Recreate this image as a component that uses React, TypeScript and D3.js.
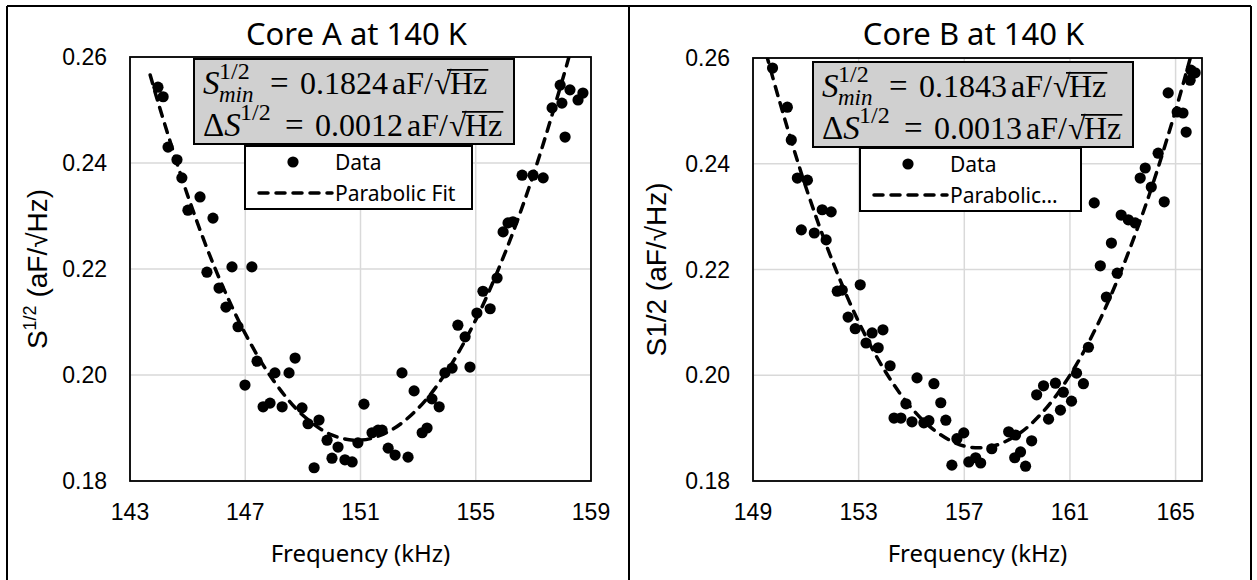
import React from 'react';
import * as d3 from 'd3';

// ---------- data ----------
const yTicks = [0.18, 0.2, 0.22, 0.24, 0.26];
const xTicksA = [143, 147, 151, 155, 159];
const xTicksB = [149, 153, 157, 161, 165];

const freqA = [143.97,144.15,144.32,144.63,144.80,145.01,145.43,145.88,145.67,146.54,147.23,146.09,146.33,146.75,147.41,146.99,148.03,148.52,148.73,147.62,147.86,148.28,148.97,149.18,149.56,149.84,150.22,150.01,150.46,150.71,149.39,150.91,151.12,151.40,151.61,151.75,151.96,152.20,152.65,152.44,152.86,153.14,153.31,153.48,153.73,153.93,154.18,154.80,154.38,154.63,155.04,155.50,155.25,155.74,156.12,155.95,156.29,156.61,156.99,157.34,158.10,157.65,157.99,157.93,158.27,158.55,158.72];
const sA = [0.2543,0.2525,0.2430,0.2406,0.2372,0.2311,0.2336,0.2296,0.2194,0.2204,0.2204,0.2164,0.2128,0.2091,0.2026,0.1981,0.2004,0.2004,0.2032,0.1940,0.1947,0.1940,0.1938,0.1908,0.1915,0.1877,0.1864,0.1843,0.1840,0.1836,0.1825,0.1872,0.1945,0.1891,0.1896,0.1896,0.1862,0.1849,0.1845,0.2004,0.1970,0.1891,0.1900,0.1955,0.1940,0.2004,0.2013,0.2015,0.2094,0.2072,0.2117,0.2125,0.2158,0.2183,0.2287,0.2270,0.2289,0.2377,0.2377,0.2372,0.2449,0.2504,0.2513,0.2547,0.2538,0.2519,0.2532];
const fitFreqA = [143.7,144,145,146,147,148,149,150,151,152,153,154,155,156,157,158,158.3];
const fitSA = [0.2566,0.2510,0.2339,0.2195,0.2078,0.1988,0.1924,0.1887,0.1877,0.1894,0.1937,0.2007,0.2104,0.2228,0.2378,0.2555,0.2613];

const freqB = [149.74,150.30,150.45,150.68,151.06,151.62,151.96,150.83,151.32,151.77,152.19,152.38,153.06,152.60,152.87,153.51,153.92,153.28,153.74,154.19,155.21,155.85,156.11,156.30,154.79,154.34,154.60,155.02,155.47,155.66,156.98,156.72,156.53,157.17,157.43,157.62,158.04,158.68,158.94,159.13,158.91,159.32,159.55,160.19,160.64,159.74,160.00,160.45,160.75,161.06,161.25,161.51,161.70,162.38,162.15,162.79,162.57,161.92,162.94,163.21,163.47,164.57,164.08,163.85,163.66,164.34,165.06,164.72,165.40,165.58,165.74,165.55,165.28];
const sB = [0.2581,0.2507,0.2445,0.2373,0.2369,0.2313,0.2309,0.2275,0.2269,0.2256,0.2159,0.2161,0.2171,0.2110,0.2088,0.2080,0.2086,0.2061,0.2052,0.2018,0.1995,0.1984,0.1948,0.1915,0.1946,0.1919,0.1919,0.1912,0.1910,0.1914,0.1891,0.1880,0.1830,0.1836,0.1844,0.1834,0.1861,0.1893,0.1887,0.1855,0.1844,0.1828,0.1876,0.1917,0.1934,0.1963,0.1980,0.1985,0.1968,0.1951,0.2004,0.1984,0.2053,0.2148,0.2207,0.2193,0.2250,0.2326,0.2303,0.2294,0.2288,0.2328,0.2356,0.2392,0.2373,0.2420,0.2498,0.2534,0.2460,0.2577,0.2572,0.2558,0.2496];
const fitFreqB = [149.5,150,151,152,153,154,155,156,157,158,159,160,161,162,163,164,165,165.6];
const fitSB = [0.2608,0.2519,0.2356,0.2217,0.2101,0.2008,0.1938,0.1891,0.1866,0.1865,0.1887,0.1932,0.2000,0.2091,0.2205,0.2341,0.2501,0.2608];

const SANS = "'Noto Sans', sans-serif";
const ARIAL = "'Liberation Sans', Arial, sans-serif";
const SERIF = "'Liberation Serif', 'Times New Roman', serif";

type PanelProps = {
  id: string;
  title: string;
  xDomain: [number, number];
  xRange: [number, number];
  yRange: [number, number];
  xTicks: number[];
  freq: number[];
  vals: number[];
  fitF: number[];
  fitV: number[];
  smin: string;
  ds: string;
  boxX: number;
  boxY: number;
  legX: number;
  legY: number;
  legW: number;
  fitLabel: string;
  yLabelSup: boolean;
  yLabelX: number;
};

function RootHz({ x, y, fs }: { x: number; y: number; fs: number }) {
  const sqrtX = x + 42;
  const hzX = sqrtX + 16;
  const hzW = 1.166 * fs;
  return (
    <g>
      <text x={x} y={y} fontSize={fs}>aF/</text>
      <text x={sqrtX} y={y} fontSize={fs}>√</text>
      <text x={hzX} y={y} fontSize={fs}>Hz</text>
      <line x1={sqrtX + 13} x2={hzX + hzW + 1} y1={y - 0.755 * fs} y2={y - 0.755 * fs} stroke="#000" strokeWidth={1.6} />
    </g>
  );
}

function Panel(p: PanelProps) {
  const x = d3.scaleLinear().domain(p.xDomain).range(p.xRange);
  const y = d3.scaleLinear().domain([0.18, 0.26]).range(p.yRange);
  const [x0, x1] = p.xRange;
  const [yb, yt] = p.yRange;
  const line = d3
    .line<number>()
    .x((_, i) => x(p.fitF[i]))
    .y((v) => y(v))
    .curve(d3.curveCatmullRom.alpha(0.5));
  const cx = (x0 + x1) / 2;
  const bx = p.boxX;
  const by = p.boxY;
  return (
    <g>
      <defs>
        <clipPath id={`clip-${p.id}`}>
          <rect x={x0} y={yt} width={x1 - x0} height={yb - yt} />
        </clipPath>
      </defs>
      {yTicks.map((t) => (
        <line key={`gy${t}`} x1={x0} x2={x1} y1={y(t)} y2={y(t)} stroke="#d9d9d9" strokeWidth={1.5} />
      ))}
      {p.xTicks.map((t) => (
        <line key={`gx${t}`} x1={x(t)} x2={x(t)} y1={yt} y2={yb} stroke="#d9d9d9" strokeWidth={1.5} />
      ))}
      <g clipPath={`url(#clip-${p.id})`}>
        <path d={line(p.fitV) || ''} fill="none" stroke="#000" strokeWidth={3.5} strokeDasharray="9 8" strokeLinecap="round" />
        {p.freq.map((f, i) => (
          <circle key={i} cx={x(f)} cy={y(p.vals[i])} r={5.6} fill="#000" />
        ))}
      </g>
      <rect x={x0} y={yt} width={x1 - x0} height={yb - yt} fill="none" stroke="#000" strokeWidth={1.8} />
      {yTicks.map((t) => (
        <text key={`ty${t}`} x={x0 - 23} y={y(t)} dy="0.35em" textAnchor="end" fontFamily={ARIAL} fontSize={23} fill="#000">
          {d3.format('.2f')(t)}
        </text>
      ))}
      {p.xTicks.map((t) => (
        <text key={`tx${t}`} x={x(t)} y={yb + 39} textAnchor="middle" fontFamily={ARIAL} fontSize={23} fill="#000">
          {t}
        </text>
      ))}
      <text x={cx - 4} y={45} textAnchor="middle" fontFamily={SANS} fontSize={31} fill="#000">{p.title}</text>
      <text x={cx} y={562} textAnchor="middle" fontFamily={SANS} fontSize={24} fill="#000">Frequency (kHz)</text>
      <text transform={`translate(${p.yLabelX},${(yt + yb) / 2}) rotate(-90)`} textAnchor="middle" fontFamily={ARIAL} fontSize={28} fill="#000">
        {p.yLabelSup ? (
          <>
            <tspan>S</tspan>
            <tspan fontSize={18} dy={-11}>1/2</tspan>
            <tspan dy={11}> (aF/√Hz)</tspan>
          </>
        ) : (
          <tspan>S1/2 (aF/√Hz)</tspan>
        )}
      </text>
      <rect x={bx} y={by} width={320} height={85} fill="#d0d0d0" stroke="#000" strokeWidth={2} />
      <g fontFamily={SERIF} fill="#000">
        <text x={bx + 9} y={by + 35} fontSize={33} fontStyle="italic">S</text>
        <text x={bx + 25} y={by + 20} fontSize={24}>1/2</text>
        <text x={bx + 25} y={by + 43} fontSize={23} fontStyle="italic">min</text>
        <text x={bx + 76} y={by + 35} fontSize={33}>=</text>
        <text x={bx + 106} y={by + 35} fontSize={32}>{p.smin}</text>
        <RootHz x={bx + 198} y={by + 35} fs={32} />
        <text x={bx + 9} y={by + 77} fontSize={33}>
          <tspan>Δ</tspan>
          <tspan fontStyle="italic">S</tspan>
        </text>
        <text x={bx + 46} y={by + 61} fontSize={24}>1/2</text>
        <text x={bx + 91} y={by + 77} fontSize={33}>=</text>
        <text x={bx + 121} y={by + 77} fontSize={32}>{p.ds}</text>
        <RootHz x={bx + 213} y={by + 77} fs={32} />
      </g>
      <rect x={p.legX} y={p.legY} width={p.legW} height={63} fill="#fff" stroke="#000" strokeWidth={2} />
      <circle cx={p.legX + 48} cy={p.legY + 16} r={5.6} fill="#000" />
      <line x1={p.legX + 14} x2={p.legX + 87} y1={p.legY + 47} y2={p.legY + 47} stroke="#000" strokeWidth={3.5} strokeDasharray="9 8" strokeLinecap="round" />
      <text x={p.legX + 90} y={p.legY + 24} fontFamily={SANS} fontSize={21} fill="#000">Data</text>
      <text x={p.legX + 90} y={p.legY + 55} fontFamily={SANS} fontSize={21} fill="#000">{p.fitLabel}</text>
    </g>
  );
}

export default function App() {
  return (
    <svg width={1257} height={580} style={{ position: 'absolute', left: 0, top: 0, background: '#fff' }}>
      <rect x={0} y={0} width={1257} height={580} fill="#fff" />
      <line x1={7} x2={1251} y1={6} y2={6} stroke="#000" strokeWidth={2} />
      <line x1={7} x2={7} y1={6} y2={580} stroke="#000" strokeWidth={2} />
      <line x1={629} x2={629} y1={6} y2={580} stroke="#000" strokeWidth={2} />
      <line x1={1251} x2={1251} y1={6} y2={580} stroke="#000" strokeWidth={2} />
      <Panel
        id="a"
        title="Core A at 140 K"
        xDomain={[143, 159]}
        xRange={[130, 591]}
        yRange={[481, 57]}
        xTicks={xTicksA}
        freq={freqA}
        vals={sA}
        fitF={fitFreqA}
        fitV={fitSA}
        smin="0.1824"
        ds="0.0012"
        boxX={194}
        boxY={59}
        legX={245}
        legY={146}
        legW={227}
        fitLabel="Parabolic Fit"
        yLabelSup={true}
        yLabelX={47}
      />
      <Panel
        id="b"
        title="Core B at 140 K"
        xDomain={[149, 166]}
        xRange={[753, 1202]}
        yRange={[481, 58]}
        xTicks={xTicksB}
        freq={freqB}
        vals={sB}
        fitF={fitFreqB}
        fitV={fitSB}
        smin="0.1843"
        ds="0.0013"
        boxX={813}
        boxY={62}
        legX={860}
        legY={148}
        legW={221}
        fitLabel="Parabolic…"
        yLabelSup={false}
        yLabelX={666}
      />
    </svg>
  );
}
